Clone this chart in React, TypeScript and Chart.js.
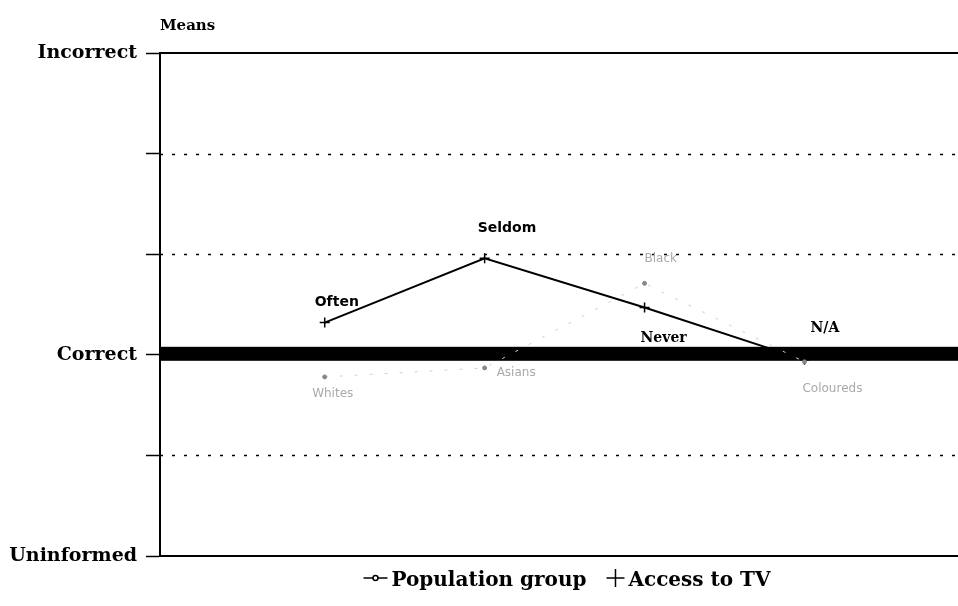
import React, { useEffect, useRef } from 'react';
import { Chart, registerables } from 'chart.js';

Chart.register(...registerables);

// ---- data ----
const titleText = 'Means';
const seriesNames = ['Population group', 'Access to TV'];
const tvCategories = ['Often', 'Seldom', 'Never', 'N/A'];
const tvX = [1, 2, 3, 4];
const tvValues = [2.32, 2.96, 2.47, 1.95];
const popGroups = ['Whites', 'Asians', 'Black', 'Coloureds'];
const popX = [1, 2, 3, 4];
const popValues = [1.78, 1.87, 2.71, 1.93];
const yTickValues = [0, 2, 5];
const yTickLabels = ['Uninformed', 'Correct', 'Incorrect'];
const yGridValues = [0, 1, 2, 3, 4, 5];

// ---- label placement (style, not data): [dx, dy, align] ----
const tvLabelPlace: [number, number, CanvasTextAlign][] = [
  [-10, -17, 'left'],
  [-7, -26, 'left'],
  [-4, 34, 'left'],
  [6, -28, 'left'],
];
const popLabelPlace: [number, number, CanvasTextAlign][] = [
  [8, 20, 'center'],
  [12, 8, 'left'],
  [0, -21, 'left'],
  [-2, 30, 'left'],
];

const SERIF = '"DejaVu Serif", "Liberation Serif", serif';
const SANS = '"DejaVu Sans", "Liberation Sans", sans-serif';

const decorPlugin = {
  id: 'decor',
  beforeDatasetsDraw(chart: any) {
    const { ctx, chartArea } = chart;
    const y = chart.scales.y;
    ctx.save();
    ctx.strokeStyle = '#000';
    // dotted grid
    ctx.lineWidth = 1.5;
    ctx.setLineDash([3, 9]);
    [1, 3, 4].forEach((v) => {
      const py = Math.round(y.getPixelForValue(v)) + 0.5;
      ctx.beginPath();
      ctx.moveTo(chartArea.left, py);
      ctx.lineTo(chartArea.right, py);
      ctx.stroke();
    });
    ctx.setLineDash([]);
    // top and bottom solid lines
    ctx.lineWidth = 2;
    [0, 5].forEach((v) => {
      const py = Math.round(y.getPixelForValue(v));
      ctx.beginPath();
      ctx.moveTo(chartArea.left, py);
      ctx.lineTo(chartArea.right, py);
      ctx.stroke();
    });
    // thick "Correct" band
    const pc = y.getPixelForValue(2);
    ctx.fillStyle = '#000';
    ctx.fillRect(chartArea.left, pc - 8, chartArea.right - chartArea.left, 14);
    ctx.restore();
  },
  afterDatasetsDraw(chart: any) {
    const { ctx, chartArea } = chart;
    ctx.save();
    // population labels (faint)
    const popMeta = chart.getDatasetMeta(0);
    ctx.fillStyle = '#a9a9a9';
    ctx.font = `12px ${SANS}`;
    ctx.textBaseline = 'alphabetic';
    popMeta.data.forEach((pt: any, i: number) => {
      const [dx, dy, al] = popLabelPlace[i];
      ctx.textAlign = al;
      ctx.fillText(popGroups[i], pt.x + dx, pt.y + dy);
    });
    // tv labels
    const tvMeta = chart.getDatasetMeta(1);
    ctx.fillStyle = '#000';
    tvMeta.data.forEach((pt: any, i: number) => {
      const [dx, dy, al] = tvLabelPlace[i];
      ctx.textAlign = al;
      ctx.font = i < 2 ? `bold 14px ${SANS}` : `bold 14px ${SERIF}`;
      ctx.fillText(tvCategories[i], pt.x + dx, pt.y + dy);
    });
    // title
    ctx.font = `bold 15px ${SERIF}`;
    ctx.textAlign = 'left';
    ctx.fillText(titleText, chartArea.left, 30);
    // legend
    ctx.font = `bold 20px ${SERIF}`;
    const ly = 586;
    const w1 = ctx.measureText(seriesNames[0]).width;
    const w2 = ctx.measureText(seriesNames[1]).width;
    const m1 = 28, gap = 22, m2 = 20;
    const total = m1 + w1 + gap + m2 + w2;
    let x = 567 - total / 2;
    // population marker
    ctx.strokeStyle = '#000';
    ctx.lineWidth = 1.5;
    ctx.beginPath();
    ctx.moveTo(x, ly - 8);
    ctx.lineTo(x + 24, ly - 8);
    ctx.stroke();
    ctx.beginPath();
    ctx.arc(x + 12, ly - 8, 2.5, 0, Math.PI * 2);
    ctx.fillStyle = '#fff';
    ctx.fill();
    ctx.stroke();
    ctx.fillStyle = '#000';
    x += m1;
    ctx.fillText(seriesNames[0], x, ly);
    x += w1 + gap;
    // cross marker
    ctx.lineWidth = 1.5;
    ctx.beginPath();
    ctx.moveTo(x - 2, ly - 8);
    ctx.lineTo(x + 16, ly - 8);
    ctx.moveTo(x + 7, ly - 17);
    ctx.lineTo(x + 7, ly + 1);
    ctx.stroke();
    x += m2;
    ctx.fillText(seriesNames[1], x, ly);
    ctx.restore();
  },
};

export default function App() {
  const ref = useRef<HTMLCanvasElement>(null);
  useEffect(() => {
    if (!ref.current) return;
    const chart = new Chart(ref.current, {
      type: 'line',
      data: {
        datasets: [
          {
            label: seriesNames[0],
            data: popX.map((x, i) => ({ x, y: popValues[i] })),
            borderColor: '#cfcfcf',
            borderWidth: 1,
            borderDash: [3, 12],
            pointRadius: 2,
            pointStyle: 'circle',
            pointBackgroundColor: '#888',
            pointBorderColor: '#888',
            fill: false,
          },
          {
            label: seriesNames[1],
            data: tvX.map((x, i) => ({ x, y: tvValues[i] })),
            borderColor: '#000',
            borderWidth: 2,
            pointStyle: 'cross',
            pointRadius: 5,
            pointBorderColor: '#000',
            pointBorderWidth: 1.5,
            fill: false,
          },
        ],
      },
      options: {
        responsive: false,
        animation: false,
        layout: { autoPadding: false, padding: { left: 0, right: 0, top: 53, bottom: 50 } },
        plugins: {
          legend: { display: false },
          tooltip: { enabled: false },
          title: { display: false },
        },
        scales: {
          x: { type: 'linear', display: false, min: -0.03, max: 4.96 },
          y: {
            type: 'linear',
            min: 0,
            max: 5,
            afterFit: (s: any) => {
              s.width = 160;
            },
            afterBuildTicks: (s: any) => {
              s.ticks = yGridValues.map((v) => ({ value: v }));
            },
            ticks: {
              autoSkip: false,
              padding: 9,
              color: '#000',
              font: { family: SERIF, size: 19, weight: 'bold' },
              callback: (v: any) => {
                const i = yTickValues.indexOf(Number(v));
                return i >= 0 ? yTickLabels[i] : '';
              },
            },
            grid: {
              drawOnChartArea: false,
              drawTicks: true,
              tickLength: 14,
              tickColor: '#000',
              tickWidth: 1.5,
            },
            border: { display: true, color: '#000', width: 2 },
          },
        },
      },
      plugins: [decorPlugin],
    });
    return () => chart.destroy();
  }, []);
  return (
    <div style={{ position: 'absolute', left: 0, top: 0, width: 958, height: 606, background: '#fff' }}>
      <canvas ref={ref} width={958} height={606} style={{ display: 'block' }} />
    </div>
  );
}
